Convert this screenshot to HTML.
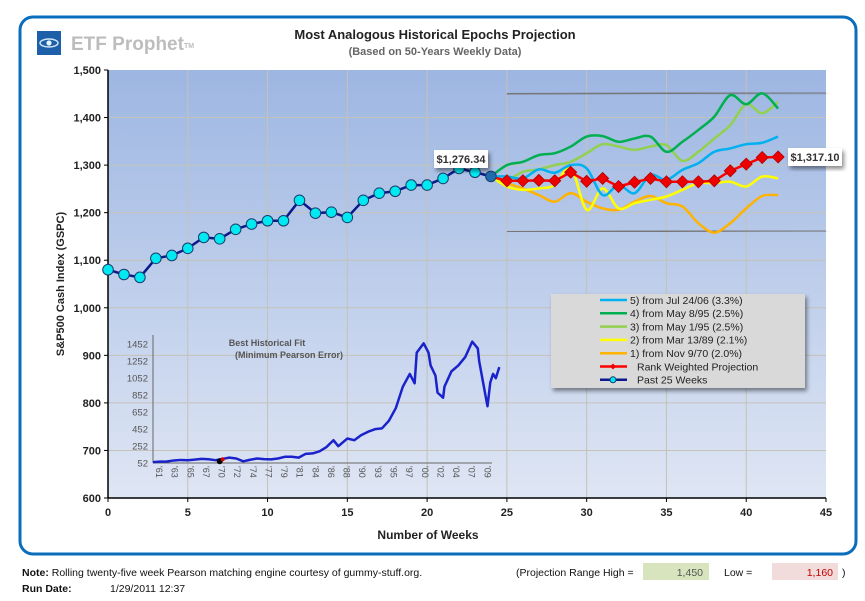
<!DOCTYPE html>
<html><head><meta charset="utf-8"><style>
body{margin:0;background:#fff;width:865px;height:596px;overflow:hidden;font-family:"Liberation Sans",sans-serif}
svg text{font-family:"Liberation Sans",sans-serif}
</style></head><body>
<svg id="c" width="865" height="596" xmlns="http://www.w3.org/2000/svg">
<defs>
<linearGradient id="bg" x1="0" y1="0" x2="0" y2="1"><stop offset="0" stop-color="#9db6e2"/><stop offset="1" stop-color="#dfe6f4"/></linearGradient>
<filter id="sh" x="-10%" y="-10%" width="130%" height="140%"><feDropShadow dx="2" dy="3" stdDeviation="2" flood-color="#000" flood-opacity="0.45"/></filter>
</defs>
<rect x="20" y="17" width="836" height="537" rx="13" fill="#fff" stroke="#0a6ebd" stroke-width="3"/>
<rect x="37" y="31" width="24" height="24" fill="#1d5fa8"/>
<ellipse cx="49" cy="43" rx="9" ry="4" fill="none" stroke="#cfe3f7" stroke-width="1.5"/>
<circle cx="49" cy="43" r="2.6" fill="#e8f3fc"/>
<text x="71" y="50" font-size="19" font-weight="bold" fill="#bdbdbd">ETF Prophet<tspan font-size="7" dy="-2">TM</tspan></text>
<text x="435" y="39" text-anchor="middle" font-size="13" font-weight="bold" fill="#222">Most Analogous Historical Epochs Projection</text>
<text x="435" y="55" text-anchor="middle" font-size="11" font-weight="bold" fill="#666">(Based on 50-Years Weekly Data)</text>
<rect x="108" y="70" width="718" height="428" fill="url(#bg)"/>
<g id="grid"></g><g id="axes"></g><g id="inset"></g><g id="series"></g>
<text x="64" y="284" transform="rotate(-90 64 284)" text-anchor="middle" font-size="11" font-weight="bold" fill="#222">S&amp;P500 Cash Index  (GSPC)</text>
<text x="428" y="539" text-anchor="middle" font-size="12" font-weight="bold" fill="#222">Number of Weeks</text>
<g id="legend"></g>
<text x="22" y="576" font-size="10.5" fill="#111"><tspan font-weight="bold">Note:</tspan>  Rolling twenty-five week Pearson matching engine courtesy of gummy-stuff.org.</text>
<text x="22" y="592" font-size="10.5" font-weight="bold" fill="#111">Run Date:</text>
<text x="110" y="592" font-size="10.5" fill="#111">1/29/2011 12:37</text>
<text x="516" y="576" font-size="10.5" fill="#111">(Projection Range High =</text>
<rect x="643" y="563" width="66" height="17" fill="#d7e4bd"/>
<text x="703" y="576" text-anchor="end" font-size="10.5" fill="#555">1,450</text>
<text x="724" y="576" font-size="10.5" fill="#111">Low =</text>
<rect x="772" y="563" width="66" height="17" fill="#f2dcdb"/>
<text x="833" y="576" text-anchor="end" font-size="10.5" fill="#c00000">1,160</text>
<text x="842" y="576" font-size="10.5" fill="#111">)</text>
</svg>
<script>
const pastWeeks=[1080,1070,1064,1104,1110,1125,1148,1145,1165,1176,1183,1183,1226,1199,1201,1190,1226,1241,1245,1258,1258,1272,1293,1285,1276.34];
const projWeeks=[24,25,26,27,28,29,30,31,32,33,34,35,36,37,38,39,40,41,42];
const rankWeighted=[1276,1267,1267,1268,1267,1285,1266,1272,1255,1264,1272,1265,1265,1265,1267,1288,1302,1316,1317.1];
const epoch5=[1276,1276,1272,1291,1284,1300,1293,1237,1258,1241,1279,1269,1290,1304,1328,1335,1344,1347,1360];
const epoch4=[1276,1300,1307,1321,1325,1339,1360,1361,1349,1356,1360,1328,1349,1374,1402,1447,1428,1451,1419];
const epoch3=[1276,1269,1286,1291,1300,1307,1325,1344,1339,1332,1339,1342,1309,1328,1356,1384,1428,1409,1433];
const epoch2=[1276,1255,1248,1251,1258,1295,1206,1251,1209,1220,1227,1234,1248,1262,1262,1265,1255,1276,1272];
const epoch1=[1276,1262,1251,1237,1223,1241,1223,1209,1206,1223,1235,1220,1213,1178,1158,1178,1209,1235,1237];
const rangeHigh=1450, rangeLow=1160;
const yTicks=[600,700,800,900,1000,1100,1200,1300,1400,1500];
const xTicks=[0,5,10,15,20,25,30,35,40,45];
const insetYears=[1961,1962,1963,1964,1965,1966,1967,1968,1969,1970,1971,1972,1973,1974,1975,1976,1977,1978,1979,1980,1981,1982,1983,1984,1985,1986,1987,1987.7,1988,1989,1990,1991,1992,1993,1994,1995,1996,1997,1998,1998.7,1999,2000,2000.7,2001,2001.7,2002,2002.8,2003,2004,2005,2006,2007,2007.8,2008,2008.9,2009.2,2009.6,2010,2010.4,2010.9];
const insetValues=[62,68,70,82,88,85,92,100,96,85,100,115,105,72,90,105,98,95,105,125,125,115,160,165,190,240,320,250,270,340,320,380,420,450,460,550,700,950,1100,990,1350,1460,1350,1200,1080,880,820,950,1130,1200,1300,1480,1400,1250,850,720,1000,1100,1050,1180];
const insetYTicks=[52,252,452,652,852,1052,1252,1452];
const insetXLabels=["61","63","65","67","70","72","74","77","79","81","84","86","88","90","93","95","97","00","02","04","07","09"];
const matchYear=1970.9, matchValue=85;

const NS="http://www.w3.org/2000/svg";
const X=v=>108+v*(718/45), Y=v=>498-(v-600)*(428/900);
const IX=yr=>153+(yr-1961)*6.94, IY=v=>463-(v-52)*(119/1400);
function el(tag,attrs,parent,txt){const e=document.createElementNS(NS,tag);for(const k in attrs)e.setAttribute(k,attrs[k]);if(txt!==undefined)e.textContent=txt;parent.appendChild(e);return e;}
const G=id=>document.getElementById(id);
// grid & axes
yTicks.forEach(t=>{
 if(t>600&&t<1500){const l=el('line',{x1:108,x2:826,y1:Y(t),y2:Y(t),stroke:'#c4c2b8','stroke-width':1},G('grid'));
 
 }
 const tx=el('text',{x:101,y:Y(t)+4,'text-anchor':'end','font-size':11,'font-weight':'bold',fill:'#222'},G('axes'),t.toLocaleString('en-US'));
 
 
 el('line',{x1:104,x2:108,y1:Y(t),y2:Y(t),stroke:'#000'},G('axes'));
});
xTicks.forEach(t=>{
 if(t>0&&t<45){const l=el('line',{x1:X(t),x2:X(t),y1:70,y2:498,stroke:'#c4c2b8','stroke-width':1},G('grid'));
 
 }
 const tx=el('text',{x:X(t),y:516,'text-anchor':'middle','font-size':11,'font-weight':'bold',fill:'#222'},G('axes'),t);
 
 
 el('line',{x1:X(t),x2:X(t),y1:498,y2:502,stroke:'#000'},G('axes'));
});
el('line',{x1:108,x2:108,y1:70,y2:498,stroke:'#000','stroke-width':1.5},G('axes'));
el('line',{x1:108,x2:826,y1:498,y2:498,stroke:'#000','stroke-width':1.5},G('axes'));
// inset
const ins=G('inset');
el('line',{x1:153,x2:153,y1:335,y2:463,stroke:'#666'},ins);
el('line',{x1:153,x2:492,y1:463,y2:463,stroke:'#666'},ins);
insetYTicks.forEach(t=>{const tx=el('text',{x:148,y:IY(t)+3.5,'text-anchor':'end','font-size':9.5,fill:'#555'},ins,t);
 
 });
insetXLabels.forEach((s,i)=>{const x=153+i*(333/21.3);const tx=el('text',{x:x+3,y:466,'font-size':9,fill:'#555',transform:`rotate(90 ${x+3} 466)`},ins,"'"+s);
 
 });
const it1=el('text',{x:267,y:346,'text-anchor':'middle','font-size':9,'font-weight':'bold',fill:'#555'},ins,'Best Historical Fit');


el('text',{x:289,y:358,'text-anchor':'middle','font-size':9,'font-weight':'bold',fill:'#555'},ins,'(Minimum Pearson Error)');
const ip=el('polyline',{points:insetYears.map((y,i)=>IX(y)+','+IY(insetValues[i])).join(' '),fill:'none',stroke:'#1a22cc','stroke-width':2.5,'stroke-linejoin':'round'},ins);


el('circle',{cx:IX(matchYear)-2,cy:IY(matchValue)+1,r:3,fill:'#000'},ins);
const md=el('circle',{cx:IX(matchYear)+1,cy:IY(matchValue)-1,r:2,fill:'#d00'},ins);


// series
const S=G('series');
function smooth(xs,ys){let p=xs.map((x,i)=>[X(x),Y(ys[i])]);let d='M'+p[0];for(let i=0;i<p.length-1;i++){const a=p[i-1]||p[i],b=p[i],c=p[i+1],e=p[i+2]||c;d+=` C${b[0]+(c[0]-a[0])/6},${b[1]+(c[1]-a[1])/6} ${c[0]-(e[0]-b[0])/6},${c[1]-(e[1]-b[1])/6} ${c[0]},${c[1]}`;}return d;}
[[rangeHigh,'range-high-line'],[rangeLow,'range-low-line']].forEach(([v,n])=>{const l=el('line',{x1:X(25),x2:826,y1:Y(v),y2:Y(v)-1,stroke:'#777','stroke-width':1.5,filter:'url(#sh)'},S);
 
 });
[[epoch1,'#ffb300','epoch-1-line'],[epoch2,'#ffff00','epoch-2-line'],[epoch3,'#92d050','epoch-3-line'],[epoch4,'#00b050','epoch-4-line'],[epoch5,'#00b0f0','epoch-5-line']].forEach(([d,c,n])=>{
 const p=el('path',{d:smooth(projWeeks,d),fill:'none',stroke:c,'stroke-width':2.5},S);
 
 });
const rl=el('polyline',{points:projWeeks.map((w,i)=>X(w)+','+Y(rankWeighted[i])).join(' '),fill:'none',stroke:'#ff0000','stroke-width':2.5},S);


projWeeks.forEach((w,i)=>{if(i===0)return;const x=X(w),y=Y(rankWeighted[i]);const dm=el('polygon',{points:`${x},${y-6} ${x+6},${y} ${x},${y+6} ${x-6},${y}`,fill:'#ee0000',stroke:'#b00000','stroke-width':0.8},S);
 
 });
const pl=el('polyline',{points:pastWeeks.map((v,i)=>X(i)+','+Y(v)).join(' '),fill:'none',stroke:'#0a1a8c','stroke-width':2.5},S);


pastWeeks.forEach((v,i)=>{const c=el('circle',{cx:X(i),cy:Y(v),r:5.3,fill:i===24?'#1f6cad':'#00e8f0',stroke:'#1a3d6e','stroke-width':1},S);
 
 });
function label(x,y,txt,n){const g=el('g',{},S);
 el('rect',{x:x,y:y,width:54,height:18,fill:'#fff',filter:'url(#sh)'},g);el('text',{x:x+27,y:y+13,'text-anchor':'middle','font-size':11,'font-weight':'bold',fill:'#333'},g,txt);}
label(434,150,'$'+pastWeeks[24].toLocaleString('en-US',{minimumFractionDigits:2}),'last-value-label');
label(788,148,'$'+rankWeighted[rankWeighted.length-1].toLocaleString('en-US',{minimumFractionDigits:2}),'projection-end-label');
// legend
const L=G('legend');
const lb=el('rect',{x:551,y:294,width:254,height:94,fill:'#d9d9d9',filter:'url(#sh)'},L);


const leg=[['#00b0f0','5)  from Jul 24/06 (3.3%)'],['#00b050','4)  from May 8/95 (2.5%)'],['#92d050','3)  from May 1/95 (2.5%)'],['#ffff00','2)  from Mar 13/89 (2.1%)'],['#ffb300','1)  from Nov 9/70 (2.0%)'],['#ff0000','Rank Weighted Projection'],['#0a1a8c','Past 25 Weeks']];
leg.forEach(([c,t],i)=>{const y=300+i*13.3;const g=el('g',{},L);
 
 
 el('line',{x1:600,x2:627,y1:y,y2:y,stroke:c,'stroke-width':2.5},g);
 if(i===5)el('polygon',{points:`613,${y-3} 616,${y} 613,${y+3} 610,${y}`,fill:'#e00'},g);
 if(i===6)el('circle',{cx:613,cy:y,r:3,fill:'#00e8f0',stroke:'#1a3d6e'},g);
 el('text',{x:i>=5?637:630,y:y+3.8,'font-size':10.5,fill:'#222'},g,t);});
</script>
</body></html>
